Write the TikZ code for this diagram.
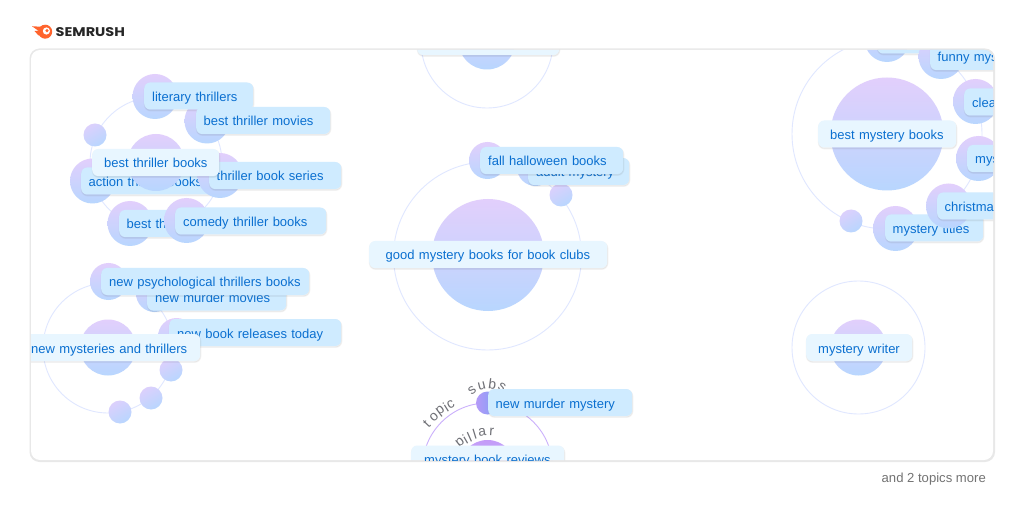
\documentclass[tikz,border=0pt]{standalone}
\usepackage{fontspec}
\setmainfont{Liberation Sans}
\newfontfamily\logofont{Poppins}
\usetikzlibrary{shadows}
\definecolor{labtext}{HTML}{0A6FD0}
\definecolor{labfill}{HTML}{CFEBFF}
\definecolor{mainfill}{HTML}{E8F6FF}
\definecolor{bubtop}{HTML}{E2CFFC}
\definecolor{bubbot}{HTML}{B8D6FE}
\definecolor{orbitc}{HTML}{E0E7FF}
\definecolor{semorange}{HTML}{FF642D}
\definecolor{arclab}{HTML}{6F7076}
\definecolor{hl}{HTML}{CBB0FC}
\definecolor{hltop}{HTML}{C49BF8}
\definecolor{sltop}{HTML}{B49AF8}
\definecolor{slbot}{HTML}{7CA0F5}
\newcommand{\oneline}[1]{\rlap{#1}}
\tikzset{
  x=1pt,y=-1pt,
  bub/.style={circle,inner sep=0pt,minimum size=#1,top color=bubtop,bottom color=bubbot,draw=none},
  subbub/.style={circle,inner sep=0pt,minimum size=23pt,left color=bubtop!85!bubbot,right color=bubbot,shading angle=30,draw=none},
  orbit/.style={circle,inner sep=0pt,minimum size=#1,draw=orbitc,line width=0.9pt},
  lab/.style args={#1/#2}{anchor=west,rounded corners=6pt,fill=labfill,text=labtext,
    font=\fontsize{13}{15}\selectfont,minimum height=27pt,inner ysep=0pt,inner xsep=#2,
    text width=#1-2*#2,text height=13pt,text depth=2pt,align=left,
    general shadow={fill=black!60,draw=black!60,line width=1.4pt,opacity=.08,shadow xshift=0.4pt,shadow yshift=-1.2pt}},
  mainlab/.style={lab=#1,fill=mainfill},
  arcl/.style={inner sep=0pt,text=arclab,font=\fontsize{14}{15}\selectfont},
}
\begin{document}
\begin{tikzpicture}
\useasboundingbox (0,0) rectangle (1024,510);
\fill[white] (0,0) rectangle (1024,510);
% logo
\fill[semorange] (45.2,31.7) circle[radius=7];
\fill[white] (46.4,31) circle[radius=3.6];
\fill[semorange] (47,30.6) circle[radius=1.7];
\fill[semorange] (32,26.2) -- (41,26.8) -- (47,24.8) -- (40.5,31) -- (38,30.5) -- cycle;
\fill[semorange] (34.5,31) -- (40,30.5) -- (41,35.5) -- (38.5,35.5) -- cycle;
\node[anchor=west,inner sep=0pt,xscale=1.15,font=\logofont\bfseries\fontsize{12.6}{14}\selectfont,text=black!85] (logo) at (55.5,32) {SEMRUSH};
% frame
\fill[black!9,rounded corners=10pt] (29.5,48.5) rectangle (995,462);
\fill[white,rounded corners=9pt] (31,50) rectangle (993,460);
\begin{scope}
\clip[rounded corners=9pt] (31,50) rectangle (993,460);
% group: thriller
\node[orbit=132pt] (o1) at (156,163) {};
\node[bub=45pt] (s1a) at (155,96.5) {};
\node[bub=45pt] (s1b) at (207,121) {};
\node[subbub] (s1c) at (95,135) {};
\node[bub=45pt] (s1d) at (92.5,181) {};
\node[lab=145pt/7.5pt] (l1f) at (81,181) {\oneline{action thriller books}};
\node[bub=57pt] (c1) at (156,162.5) {};
\node[bub=45pt] (s1e) at (220,175.5) {};
\node[bub=45pt] (s1g) at (130,223.5) {};
\node[lab=70pt/7.5pt] (l1g) at (119,223.5) {\oneline{best thriller}};
\node[bub=45pt] (s1h) at (186.5,220.5) {};
\node[lab=109pt/8pt] (l1a) at (144,96) {\oneline{literary thrillers}};
\node[lab=134pt/7.5pt] (l1b) at (196,120.5) {\oneline{best thriller movies}};
\node[lab=132pt/7.5pt] (l1e) at (209,175.5) {\oneline{thriller book series}};
\node[lab=151pt/8pt] (l1h) at (175,221) {\oneline{comedy thriller books}};
\node[mainlab=127pt/12pt] (m1) at (92,162.5) {\oneline{best thriller books}};
% group: new
\node[orbit=130pt] (o2) at (108,348) {};
\node[bub=56pt] (c2) at (108,347.5) {};
\node[bub=37pt] (s2a) at (108.5,281.5) {};
\node[bub=37pt] (s2b) at (154.5,293.5) {};
\node[bub=37pt] (s2c) at (176.5,336.5) {};
\node[subbub] (s2d) at (171,370) {};
\node[subbub] (s2e) at (151,398) {};
\node[subbub] (s2f) at (120,412) {};
\node[lab=139pt/8pt] (l2b) at (147,297) {\oneline{new murder movies}};
\node[lab=172pt/8pt] (l2c) at (169,332.5) {\oneline{new book releases today}};
\node[lab=208pt/8pt] (l2a) at (101,281.5) {\oneline{new psychological thrillers books}};
\node[mainlab=185pt/16pt] (m2) at (15,347.5) {\oneline{new mysteries and thrillers}};
% group: top centre
\node[orbit=132pt] (o3) at (487,42) {};
\node[bub=57pt] (c3) at (487,41) {};
\node[mainlab=142pt/12pt] (m3) at (417,41.5) {};
% group: good mystery
\node[orbit=188pt] (o4) at (487.5,256) {};
\node[bub=112pt] (c4) at (488,255) {};
\node[bub=37pt] (s4b) at (535.5,167.5) {};
\node[subbub] (s4c) at (561,195) {};
\node[lab=101pt/8pt] (l4b) at (528,171.5) {\oneline{adult mystery}};
\node[bub=37pt] (s4a) at (487.5,160.5) {};
\node[lab=143pt/8pt] (l4a) at (480,160.5) {\oneline{fall halloween books}};
\node[mainlab=238pt/16.5pt] (m4) at (369,254.5) {\oneline{good mystery books for book clubs}};
% group: mystery writer
\node[orbit=133pt] (o5) at (858.5,347.5) {};
\node[bub=56pt] (c5) at (858.5,347.5) {};
\node[mainlab=106pt/12pt] (m5) at (806,347.5) {\oneline{mystery writer}};
% group: best mystery
\node[orbit=190pt] (o6) at (887,134) {};
\node[bub=113pt] (c6) at (887,134) {};
\node[bub=45pt] (s6a) at (887,39.5) {};
\node[lab=120pt/8pt] (l6a) at (877,40) {};
\node[bub=45pt] (s6b) at (941,56.5) {};
\node[lab=180pt/7.5pt] (l6b) at (930,56.5) {\oneline{funny mystery books}};
\node[bub=45pt] (s6c) at (975.5,101.5) {};
\node[lab=180pt/8pt] (l6c) at (964,102) {\oneline{clean mystery books}};
\node[bub=45pt] (s6d) at (978.5,158.5) {};
\node[lab=180pt/8pt] (l6d) at (967,158.5) {\oneline{mystery books}};
\node[bub=45pt] (s6f) at (895.5,228.5) {};
\node[subbub] (s6g) at (851,221) {};
\node[lab=98pt/7.5pt] (l6f) at (885,228) {\oneline{mystery titles}};
\node[bub=45pt] (s6e) at (948.5,206) {};
\node[lab=200pt/7.5pt] (l6e) at (937,206) {\oneline{christmas mystery books}};
\node[mainlab=138pt/12pt] (m6) at (818,134) {\oneline{best mystery books}};
% highlighted group
\node[orbit=130pt,draw=hl] (o7) at (487.5,468) {};
\node[circle,minimum size=56pt,inner sep=0pt,top color=hltop,bottom color=bubbot] (c7) at (487.5,468) {};
\foreach \ch/\px/\py/\rt [count=\i] in {p/460.7/443.3/38,i/465.3/439.6/30,l/469.4/437/24,l/474.6/434.6/17,a/482.3/432.5/8,r/491.7/431.7/-4}
  \node[arcl,rotate=\rt] (pl\i) at (\px,\py) {\ch};
\foreach \ch/\px/\py/\rt [count=\i] in {t/426.7/424.3/46,o/434/416.7/42,p/441/411/36,i/445.7/407.3/32,c/450.7/404.3/28}
  \node[arcl,rotate=\rt] (tp\i) at (\px,\py) {\ch};
\foreach \ch/\px/\py/\rt [count=\i] in {s/472/390.7/38,u/481.7/386/14,b/492.3/384.3/-8,s/502/386.7/-30}
  \node[arcl,rotate=\rt] (sb\i) at (\px,\py) {\ch};
\node[circle,minimum size=23pt,inner sep=0pt,left color=sltop,right color=slbot] (s7) at (487.5,403) {};
\node[lab=144pt/7.5pt] (l7) at (488,402.5) {\oneline{new murder mystery}};
\node[mainlab=153pt/13pt] (m7) at (411,459) {\oneline{mystery book reviews}};
\end{scope}
\node[anchor=east,inner sep=0pt,text=black!55,font=\fontsize{13.1}{15}\selectfont] (more) at (986,479) {and 2 topics more};
\end{tikzpicture}
\end{document}
